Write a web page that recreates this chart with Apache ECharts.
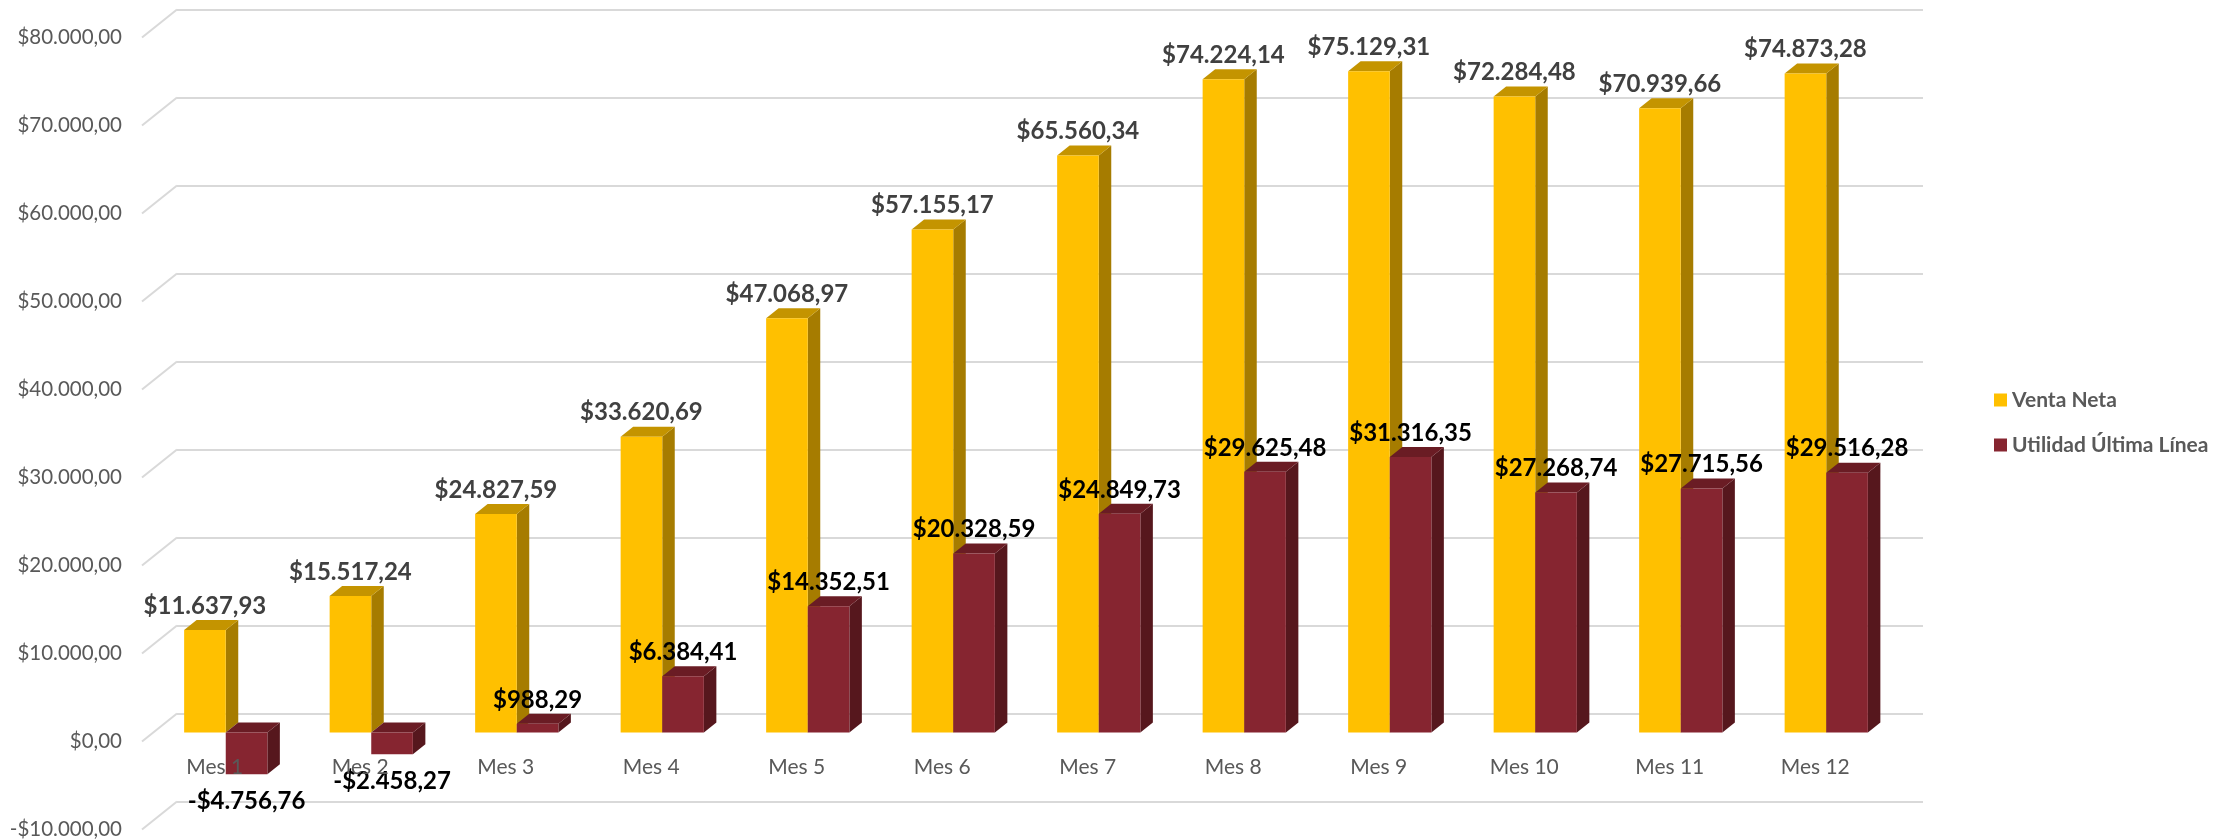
<!DOCTYPE html>
<html>
<head>
<meta charset="utf-8">
<script src="https://cdn.jsdelivr.net/npm/echarts@6/dist/echarts.min.js"></script>
<style>
html,body{margin:0;padding:0;background:#fff;}
#chart{width:2219px;height:840px;}
</style>
</head>
<body>
<div id="chart"></div>
<script>
var meses = ['Mes 1','Mes 2','Mes 3','Mes 4','Mes 5','Mes 6','Mes 7','Mes 8','Mes 9','Mes 10','Mes 11','Mes 12'];
var ventaNeta = [11637.93,15517.24,24827.59,33620.69,47068.97,57155.17,65560.34,74224.14,75129.31,72284.48,70939.66,74873.28];
var utilidad = [-4756.76,-2458.27,988.29,6384.41,14352.51,20328.59,24849.73,29625.48,31316.35,27268.74,27715.56,29516.28];
var ticks = [-10000,0,10000,20000,30000,40000,50000,60000,70000,80000];

var FONT = 'Lato, "Open Sans", sans-serif';
var DX = 12.5, DY = 10;      // profundidad de las barras
var WDX = 35, WDY = 28;      // profundidad del piso

function dinero(v){
    var neg = v < 0;
    var s = Math.abs(v).toFixed(2).split('.');
    var ent = s[0].replace(/\B(?=(\d{3})+(?!\d))/g, '.');
    return (neg ? '-' : '') + '$' + ent + ',' + s[1];
}

function barra3d(lado, colores, colorTexto){
    return function(params, api){
        var i = api.value(0), v = api.value(1);
        var pv = api.coord([i, v]);
        var p0 = api.coord([i, 0]);
        var banda = api.size([1, 0])[0];
        var w = banda * 0.286;
        var x0 = p0[0] - w + lado * w;
        var yA = Math.min(pv[1], p0[1]);
        var yB = Math.max(pv[1], p0[1]);
        var ty = v >= 0 ? yA - 24 : yB + 27;
        return {
            type: 'group',
            children: [
                {type: 'polygon', shape: {points: [[x0 + w, yA], [x0 + w + DX, yA - DY], [x0 + w + DX, yB - DY], [x0 + w, yB]]},
                 style: {fill: colores[2]}},
                {type: 'polygon', shape: {points: [[x0, yA], [x0 + DX, yA - DY], [x0 + w + DX, yA - DY], [x0 + w, yA]]},
                 style: {fill: colores[1]}},
                {type: 'rect', shape: {x: x0, y: yA, width: w, height: yB - yA},
                 style: {fill: colores[0]}},
                {type: 'text', z2: 50, style: {
                    text: dinero(v), x: x0 + w / 2, y: ty, align: 'center', verticalAlign: 'middle',
                    fill: colorTexto, font: 'bold 24px ' + FONT}}
            ]
        };
    };
}

var chart = echarts.init(document.getElementById('chart'));

var ejeValor = {type: 'value', min: -10000, max: 80000, interval: 10000};

var option = {
    backgroundColor: '#ffffff',
    animation: false,
    legend: {
        data: ['Venta Neta', 'Utilidad Última Línea'],
        orient: 'vertical',
        left: 1989, top: 384,
        itemWidth: 13, itemHeight: 13, itemGap: 23,
        icon: 'rect',
        textStyle: {fontFamily: FONT, fontWeight: 'bold', fontSize: 21, color: '#595959', lineHeight: 22}
    },
    grid: [
        {left: 177, right: 296, top: 9.5, bottom: 38.5},   // pared del fondo
        {left: 153, right: 320, top: 28.5, bottom: 19.5},  // frente de las barras
        {left: 142, right: 331, top: 37.5, bottom: 10.5}   // borde del piso
    ],
    xAxis: [
        {gridIndex: 0, type: 'category', data: meses, show: false},
        {gridIndex: 1, type: 'category', data: meses, show: false},
        {gridIndex: 2, type: 'category', data: meses, position: 'bottom', offset: -88.5, z: 5,
         axisLine: {show: false, onZero: false},
         axisTick: {show: false},
         axisLabel: {margin: 16, fontFamily: FONT, fontSize: 21, color: '#595959'}}
    ],
    yAxis: [
        Object.assign({gridIndex: 0, axisLabel: {show: false}, axisLine: {show: false}, axisTick: {show: false},
            splitLine: {show: true, lineStyle: {color: '#D9D9D9', width: 2}}}, ejeValor),
        Object.assign({gridIndex: 1, show: false, splitLine: {show: false}}, ejeValor),
        Object.assign({gridIndex: 2, axisLine: {show: false}, axisTick: {show: false}, splitLine: {show: false},
            axisLabel: {margin: 20, fontFamily: FONT, fontSize: 20.5, color: '#595959', formatter: dinero}}, ejeValor)
    ],
    series: [
        {
            name: 'diagonales',
            type: 'custom',
            xAxisIndex: 0, yAxisIndex: 0,
            silent: true,
            data: ticks.map(function(t){ return [0, t]; }),
            encode: {x: 0, y: 1},
            renderItem: function(params, api){
                var p = api.coord([0, api.value(1)]);
                var cs = params.coordSys;
                return {type: 'line', shape: {x1: cs.x - WDX, y1: p[1] + WDY, x2: cs.x, y2: p[1]},
                        style: {stroke: '#D9D9D9', lineWidth: 2}};
            }
        },
        {
            name: 'Venta Neta',
            type: 'custom',
            xAxisIndex: 1, yAxisIndex: 1,
            itemStyle: {color: '#FFC000'},
            data: ventaNeta.map(function(v, i){ return [i, v]; }),
            encode: {x: 0, y: 1},
            renderItem: barra3d(0, ['#FFC000', '#C49400', '#A67C00'], '#404040')
        },
        {
            name: 'Utilidad Última Línea',
            type: 'custom',
            xAxisIndex: 1, yAxisIndex: 1,
            itemStyle: {color: '#862530'},
            data: utilidad.map(function(v, i){ return [i, v]; }),
            encode: {x: 0, y: 1},
            renderItem: barra3d(1, ['#862530', '#6A1C24', '#56171D'], '#000000')
        }
    ]
};
chart.setOption(option);
</script>
</body>
</html>
